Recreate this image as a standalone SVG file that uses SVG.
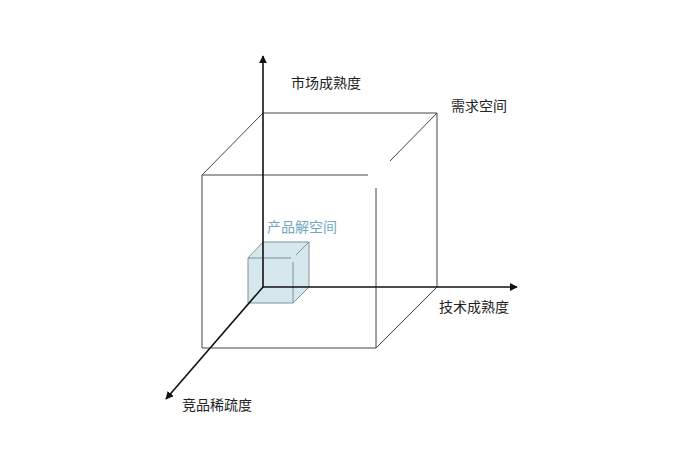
<svg xmlns="http://www.w3.org/2000/svg" width="675" height="450" viewBox="0 0 675 450">
<defs>
<marker id="arr" viewBox="0 0 10 10" refX="9" refY="5" markerWidth="8" markerHeight="8" markerUnits="userSpaceOnUse" orient="auto">
<path d="M0,0 L10,5 L0,10 z" fill="#111"/>
</marker>
<style>
.edge{fill:none;stroke:#444;stroke-width:1}
.sedge{fill:none;stroke:#6f8b95;stroke-width:0.9}
.axis{fill:none;stroke:#111;stroke-width:1.6}
.lbl{font-family:"Noto Sans CJK SC","Liberation Sans",sans-serif;font-size:14px;fill:#222}
.blue{fill:#6fa8bd}
</style>
</defs>
<rect width="675" height="450" fill="#fff"/>
<g id="demand-space">
<path class="edge" d="M263,113 H437 V287 M202,175 H368 M376,188 V348 H202 V175 L263,113 M437,113 L390,161 M437,287 L376,348"/>
</g>
<g id="product-space">
<polygon points="248,258 263,242 309,242 309,287 293,303 248,303" fill="#cfe3ea" fill-opacity="0.85"/>
<path class="sedge" d="M263,242 H309 V287 M248,258 H291 M293,262 V303 H248 V258 L263,242 M309,242 L296,255 M309,287 L293,303"/>
</g>
<g id="connectors">
<line class="axis" x1="263" y1="287" x2="263" y2="56" marker-end="url(#arr)"/>
<line class="axis" x1="263" y1="287" x2="517" y2="287" marker-end="url(#arr)"/>
<line class="axis" x1="263" y1="287" x2="166" y2="399" marker-end="url(#arr)"/>
</g>
<g id="label-market"><text class="lbl" x="291" y="88">市场成熟度</text></g>
<g id="label-demand"><text class="lbl" x="451" y="111">需求空间</text></g>
<g id="label-product"><text class="lbl blue" x="267" y="232">产品解空间</text></g>
<g id="label-tech"><text class="lbl" x="439" y="312">技术成熟度</text></g>
<g id="label-compete"><text class="lbl" x="182" y="410">竞品稀疏度</text></g>
</svg>
